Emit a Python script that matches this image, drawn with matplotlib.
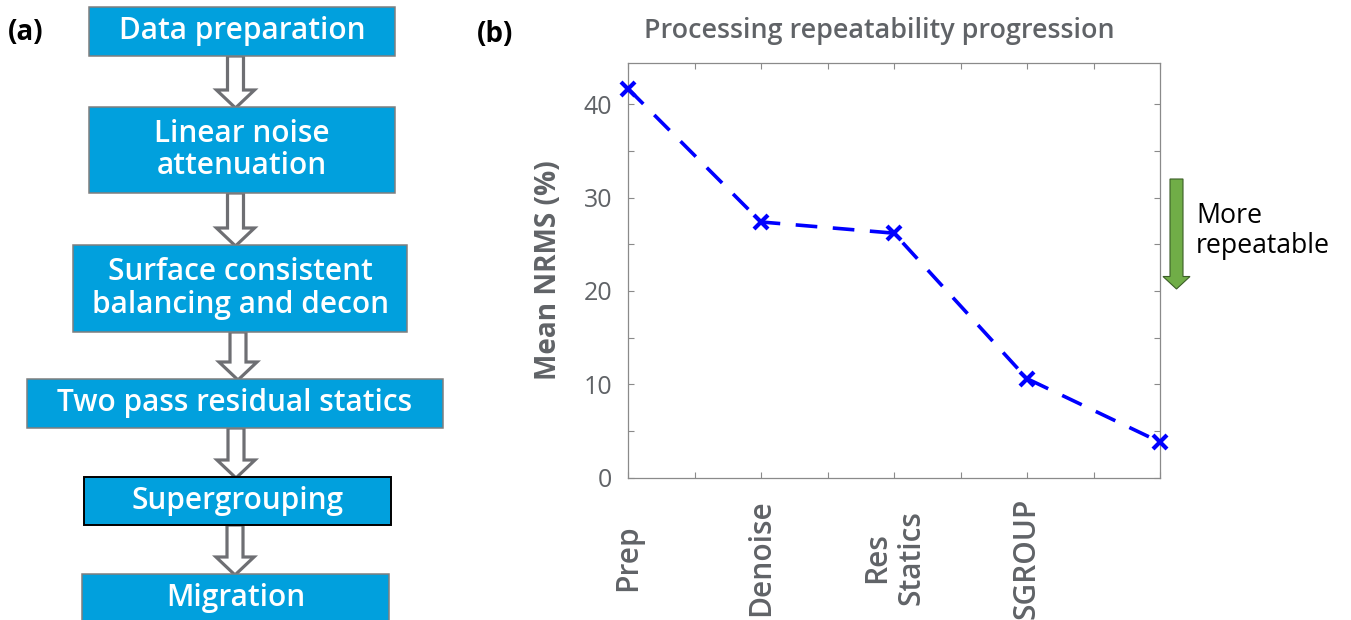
import matplotlib
matplotlib.use("Agg")
import matplotlib.pyplot as plt
from matplotlib.patches import Rectangle, Polygon
import numpy as np

# Processing flow, top to bottom
flow_steps = ["Data preparation", "Linear noise\nattenuation",
              "Surface consistent\nbalancing and decon",
              "Two pass residual statics", "Supergrouping", "Migration"]

# Repeatability after each processing stage
stage_labels = ["Prep", "Denoise", "Res\nStatics", "SGROUP", ""]
mean_nrms = [41.7, 27.4, 26.2, 10.6, 3.8]

y_major = [0, 10, 20, 30, 40]
y_minor = [5, 15, 25, 35]

title = "Processing repeatability progression"
ylabel = "Mean NRMS (%)"
trend_note = "More\nrepeatable"

# ---- styling ----
BOX = "#01a0dd"
TXT = "#606367"
SPINE = "#8a8a8a"
ARROW_EDGE = "#6e6f73"
GREEN = "#70ad47"

W, H = 1351, 620
plt.rcParams["font.family"] = ["Open Sans", "DejaVu Sans"]
fig = plt.figure(figsize=(W / 100, H / 100), dpi=100)

# pixel-space canvas for the flowchart and annotations
canvas = fig.add_axes([0, 0, 1, 1])
canvas.set_xlim(0, W)
canvas.set_ylim(H, 0)
canvas.axis("off")

box_px = [(89, 395, 7, 56), (89, 395, 107, 193), (73, 407, 245, 332),
          (27, 443, 379, 428), (84, 391, 477, 525), (82, 389, 574, 622)]
box_edges = ["#7f7f7f"] * 4 + ["black", "#7f7f7f"]
box_lw = [1.1] * 4 + [1.4, 1.1]

for (x0, x1, y0, y1), text, ec, lw in zip(box_px, flow_steps, box_edges, box_lw):
    canvas.add_patch(Rectangle((x0, y0), x1 - x0, y1 - y0, fc=BOX, ec=ec,
                               lw=lw, zorder=3))
    canvas.text((x0 + x1) / 2, (y0 + y1) / 2, text, color="white",
                fontsize=21.4, fontweight="semibold", ha="center", va="center",
                linespacing=1.1, zorder=4)


def block_arrow(cx, top, tip, shaft_half, head_half, head_len, **kw):
    hs = tip - head_len
    pts = [(cx - shaft_half, top), (cx - shaft_half, hs), (cx - head_half, hs),
           (cx, tip), (cx + head_half, hs), (cx + shaft_half, hs),
           (cx + shaft_half, top)]
    return Polygon(pts, closed=True, joinstyle="miter", **kw)


arrow_cx = [235.5, 235.5, 238, 236, 235]
for i, cx in enumerate(arrow_cx):
    top = box_px[i][3]
    tip = box_px[i + 1][2] + 1
    canvas.add_patch(block_arrow(cx, top, tip, 8, 19, 18, fc="white",
                                 ec=ARROW_EDGE, lw=2.3, zorder=2))

# panel labels
canvas.text(26, 33, "(a)", fontsize=20, fontweight="bold", color="black",
            ha="center", va="center")
canvas.text(495, 35, "(b)", fontsize=20, fontweight="bold", color="black",
            ha="center", va="center")
canvas.text(879, 31, title, fontsize=19.4, fontweight="semibold", color=TXT,
            ha="center", va="center")

# trend indicator
canvas.add_patch(block_arrow(1176.5, 179, 289, 6.5, 13.5, 12.5, fc=GREEN,
                             ec="#3b5e27", lw=0.8, zorder=2))
canvas.text(1196, 231, trend_note, fontsize=19.2, color="black", ha="left",
            va="center", linespacing=1.05)

# ---- line chart ----
ax = fig.add_axes([628 / W, 1 - 477.5 / H, 532 / W, 415 / H])
x = np.arange(len(mean_nrms))
ax.plot(x, mean_nrms, color="#0000ff", lw=2.6, ls=(0, (6, 4.3)),
        marker="x", ms=10, mew=3.0, clip_on=False, zorder=5)
ax.set_xlim(0, len(mean_nrms) - 1)
ax.set_ylim(0, 44.5)

ax.set_xticks(x, stage_labels, rotation=90, ha="center", va="center",
              multialignment="center", fontweight="semibold")
ax.set_xticks(x[:-1] + 0.5, minor=True)
ax.set_yticks(y_major, [str(v) for v in y_major])
ax.set_yticks(y_minor, minor=True)

ax.tick_params(which="both", direction="in", length=4, width=0.8,
               color=SPINE, top=True, right=True)
ax.tick_params(axis="x", which="major", pad=58, labelsize=21.5, labelcolor=TXT)
ax.tick_params(axis="y", which="major", pad=11.5, labelsize=18, labelcolor=TXT)

for s in ax.spines.values():
    s.set_color(SPINE)
    s.set_linewidth(0.9)

ax.set_ylabel(ylabel, fontsize=20.2, fontweight="bold", color=TXT,
              va="center")
ax.yaxis.set_label_coords(-0.150, 0.5)

fig.savefig("out.png", dpi=100)
